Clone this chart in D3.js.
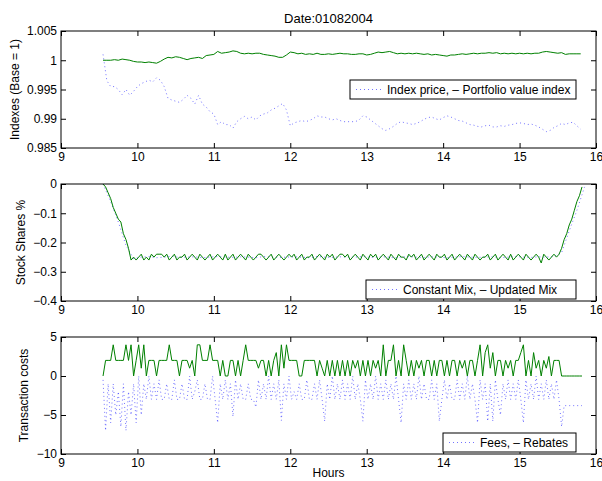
<!DOCTYPE html>
<html><head><meta charset="utf-8">
<script src="https://cdn.jsdelivr.net/npm/d3@7"></script>
<style>
body{margin:0;background:#fff}
svg{display:block}
text{font-family:"Liberation Sans",Arial,Helvetica,sans-serif;font-size:12px;fill:#000}
</style>
</head><body>
<svg id="c" width="602" height="481"></svg>
<script>
// ---------------- data ----------------
const chartTitle = "Date:01082004";
const xLabel = "Hours";
const xTicks = [9, 10, 11, 12, 13, 14, 15, 16];

// Panel 1: sampled every 0.05 h starting at 9.55 h
const p1Start = 9.55, p1Step = 0.05;
const portfolioValueIndex = [
 1.0000,1.0000,1.0000,1.0001,1.0000,1.0002,1.0001,1.0000,0.9998,0.9997,
 0.9997,0.9996,0.9997,0.9996,0.9995,0.9998,1.0002,1.0005,1.0004,1.0006,
 1.0005,1.0003,1.0001,1.0003,1.0004,1.0005,1.0003,1.0008,1.0009,1.0010,
 1.0015,1.0012,1.0013,1.0014,1.0016,1.0015,1.0012,1.0011,1.0012,1.0011,
 1.0012,1.0012,1.0010,1.0009,1.0008,1.0007,1.0005,1.0005,1.0009,1.0014,
 1.0013,1.0011,1.0012,1.0010,1.0011,1.0010,1.0012,1.0010,1.0010,1.0011,
 1.0010,1.0011,1.0012,1.0011,1.0011,1.0010,1.0010,1.0011,1.0011,1.0009,
 1.0010,1.0012,1.0014,1.0013,1.0014,1.0015,1.0013,1.0011,1.0012,1.0011,
 1.0012,1.0011,1.0012,1.0011,1.0010,1.0011,1.0009,1.0010,1.0009,1.0008,
 1.0007,1.0009,1.0009,1.0010,1.0011,1.0010,1.0011,1.0012,1.0011,1.0012,
 1.0012,1.0013,1.0012,1.0013,1.0011,1.0012,1.0011,1.0012,1.0011,1.0012,
 1.0011,1.0012,1.0011,1.0012,1.0012,1.0014,1.0015,1.0014,1.0013,1.0012,
 1.0013,1.0010,1.0011,1.0011,1.0011,1.0011
];
const indexPrice = [
 1.0010,0.9965,0.9955,0.9955,0.9950,0.9941,0.9950,0.9940,0.9947,0.9955,
 0.9960,0.9963,0.9966,0.9963,0.9970,0.9966,0.9955,0.9935,0.9932,0.9930,
 0.9928,0.9933,0.9940,0.9935,0.9925,0.9940,0.9925,0.9920,0.9912,0.9908,
 0.9890,0.9895,0.9890,0.9890,0.9884,0.9895,0.9900,0.9904,0.9900,0.9903,
 0.9898,0.9905,0.9908,0.9910,0.9915,0.9918,0.9922,0.9926,0.9915,0.9888,
 0.9893,0.9895,0.9897,0.9895,0.9897,0.9900,0.9905,0.9903,0.9903,0.9900,
 0.9898,0.9900,0.9897,0.9895,0.9895,0.9895,0.9895,0.9898,0.9905,0.9903,
 0.9898,0.9893,0.9888,0.9883,0.9880,0.9883,0.9887,0.9892,0.9895,0.9893,
 0.9892,0.9890,0.9892,0.9895,0.9899,0.9902,0.9903,0.9900,0.9898,0.9902,
 0.9905,0.9903,0.9900,0.9897,0.9896,0.9893,0.9890,0.9889,0.9887,0.9886,
 0.9888,0.9889,0.9886,0.9886,0.9888,0.9887,0.9889,0.9890,0.9892,0.9893,
 0.9892,0.9890,0.9891,0.9889,0.9886,0.9882,0.9878,0.9880,0.9885,0.9888,
 0.9892,0.9890,0.9893,0.9894,0.9888,0.9882
];

// Panel 2 & 3: sampled every 2 minutes starting at 9.55 h
const minStart = 9.55, minStep = 1 / 30;
const updatedMix = [
 0,-0.01,-0.03,-0.05,-0.08,-0.10,-0.12,-0.13,-0.17,-0.19,-0.22,-0.26,
 -0.25,-0.26,-0.25,-0.24,-0.26,-0.25,-0.26,-0.24,-0.25,-0.24,
 -0.24,-0.24,-0.25,-0.24,-0.26,-0.25,-0.24,-0.26,-0.25,-0.25,
 -0.24,-0.26,-0.25,-0.24,-0.25,-0.26,-0.24,-0.25,-0.26,-0.25,
 -0.24,-0.26,-0.25,-0.24,-0.25,-0.26,-0.24,-0.26,-0.25,-0.24,
 -0.26,-0.25,-0.24,-0.25,-0.26,-0.24,-0.25,-0.26,-0.25,-0.24,
 -0.24,-0.25,-0.26,-0.25,-0.24,-0.26,-0.25,-0.24,-0.25,-0.26,
 -0.25,-0.24,-0.25,-0.24,-0.26,-0.25,-0.24,-0.26,-0.25,-0.25,
 -0.24,-0.26,-0.25,-0.24,-0.25,-0.26,-0.24,-0.25,-0.24,-0.26,
 -0.25,-0.24,-0.24,-0.25,-0.24,-0.26,-0.25,-0.24,-0.25,-0.26,
 -0.24,-0.25,-0.26,-0.24,-0.25,-0.24,-0.26,-0.25,-0.24,-0.25,
 -0.26,-0.24,-0.25,-0.26,-0.24,-0.25,-0.25,-0.26,-0.24,-0.25,
 -0.24,-0.26,-0.25,-0.24,-0.26,-0.25,-0.24,-0.25,-0.26,-0.24,
 -0.25,-0.25,-0.24,-0.26,-0.25,-0.24,-0.26,-0.25,-0.24,-0.25,
 -0.26,-0.24,-0.25,-0.26,-0.24,-0.25,-0.26,-0.25,-0.25,-0.24,
 -0.26,-0.25,-0.24,-0.26,-0.25,-0.24,-0.25,-0.26,-0.24,-0.26,
 -0.25,-0.24,-0.25,-0.26,-0.24,-0.25,-0.26,-0.25,-0.24,-0.25,
 -0.27,-0.24,-0.25,-0.26,-0.25,-0.24,-0.25,
 -0.24,-0.22,-0.19,-0.17,-0.14,-0.12,-0.09,-0.06,-0.04,-0.01
];
// Constant mix: sampled every 0.1 h starting at 9.55 h
const cmStart = 9.55, cmStep = 0.1;
const constantMix = [
 0,-0.06,-0.13,-0.21,-0.255,
 -0.25,-0.248,-0.252,-0.25,-0.247,-0.251,-0.25,-0.249,-0.252,-0.25,
 -0.248,-0.25,-0.251,-0.249,-0.25,-0.252,-0.248,-0.25,-0.251,-0.25,
 -0.249,-0.25,-0.252,-0.248,-0.25,-0.251,-0.249,-0.25,-0.25,-0.248,
 -0.251,-0.25,-0.249,-0.252,-0.25,-0.248,-0.25,-0.251,-0.249,-0.25,
 -0.252,-0.25,-0.248,-0.25,-0.251,-0.25,-0.249,-0.252,-0.25,-0.248,
 -0.25,-0.251,-0.249,-0.25,-0.248,
 -0.235,-0.16,-0.09,-0.01
];
const rebates = [
 0,2,2,2,4,2,2,2,2,4,
 2,4,0,2,4,1,4,0,2,2,
 2,0,2,2,2,2,4,2,2,2,
 0,2,2,2,1,2,0,4,4,2,
 2,2,4,2,2,2,0,2,0,0,
 2,2,0,2,0,2,4,2,2,2,
 2,1,2,2,0,2,0,2,3,0,
 4,1,4,2,2,2,2,0,0,2,
 2,2,2,2,0,2,1,0,2,0,
 2,0,2,0,2,0,2,0,2,1,
 2,0,2,0,2,0,2,1,2,0,
 4,0,2,2,4,0,2,0,4,2,
 0,2,0,2,1,2,0,2,2,0,
 2,0,2,2,0,2,0,2,2,0,
 2,1,2,0,2,2,0,2,4,0,
 3,4,1,3,0,2,2,0,2,1,
 2,0,2,2,3,4,0,2,0,3,
 1,2,0,2,1,2.5,0,2,2,2,
 0,0,0,0,0,0,0,0,0
];
const fees = [
 -0.5,-7,-1,-6,-1,-5,-2,-6.5,-1,-7,
 -2,-5,-1,-6,0,-5,-1,-3,0,-3,
 -1,-3,-0.5,-3,-3,-1,-3,-3,-0.5,-3,
 -3,-1,-3,-3,0,-3,-2,-0.5,-3,-3,
 -1,-3,-3,0,-3,-6,-1,-3,-0.5,-3,
 -1,-5.2,-0.5,-3,-1,-3,-3,-1,-3,-3,
 -4,-0.5,-3,-1,-3,0,-3,-1,-3,-0.5,
 -5.7,-1,-3,0,-3,-2,-3,-1,-3,-3,
 -0.5,-3,-3,-1,-3,-0.5,-3,-5.8,-1,-3,
 0,-3,-1,-3,-0.5,-3,-1,-3,0,-3,
 -1,-3,-5.8,-0.5,-3,-1,-3,0,-3,-1,
 -3,-0.5,-3,-1,-3,0,-3,-6,-1,-3,
 -0.5,-3,-1,-3,0,-3,-1,-3,-3,-0.5,
 -3,-1,-5.8,-3,-0.5,-3,-1,-3,-3,-0.5,
 -3,-1,-3,0,-3,-1,-3,-6,-0.5,-3,
 -1,-5.8,-1,-5.8,-0.5,-3,-5,-1,-3,-0.5,
 -3,-1,-3,-0.5,-3,-6,-0.5,-3,-1,-3,
 0,-3,-1,-3,-0.5,-3,-1,-3,-0.5,-3,
 -6.5,-3.8,-3.8,-3.8,-3.8,-3.8,-3.8,-3.8,-3.8
];

const p1YTicks = [0.985, 0.99, 0.995, 1, 1.005];
const p2YTicks = [-0.4, -0.3, -0.2, -0.1, 0];
const p3YTicks = [-10, -5, 0, 5];
const yLabels = ["Indexes (Base = 1)", "Stock Shares %", "Transaction costs"];
const legendTexts = ["Index price, \u2013 Portfolio value index", "Constant Mix, \u2013 Updated Mix", "Fees, \u2013 Rebates"];

// ---------------- layout ----------------
const svg = d3.select("#c");
const L = 61, R = 596, PH = 117;
const tops = [31, 184, 337];
const x = d3.scaleLinear().domain([9, 16]).range([L, R]);
const GREEN = "#008000", BLUE = "#0000ff";
const fmtMinus = d => (d < 0 ? "\u2212" : "") + String(+Math.abs(d).toFixed(3));

const panels = [
  { ydom: [0.985, 1.005], yticks: p1YTicks, ylabX: 15,
    series: [
      { start: p1Start, step: p1Step, values: indexPrice, color: BLUE, dotted: true },
      { start: p1Start, step: p1Step, values: portfolioValueIndex, color: GREEN }
    ],
    legend: { x: 350, y: 80, w: 226 } },
  { ydom: [-0.4, 0], yticks: p2YTicks, ylabX: 21,
    series: [
      { start: cmStart, step: cmStep, values: constantMix, color: BLUE, dotted: true },
      { start: minStart, step: minStep, values: updatedMix, color: GREEN }
    ],
    legend: { x: 366, y: 280, w: 210 } },
  { ydom: [-10, 5], yticks: p3YTicks, ylabX: 24,
    series: [
      { start: minStart, step: minStep, values: fees, color: BLUE, dotted: true },
      { start: minStart, step: minStep, values: rebates, color: GREEN }
    ],
    legend: { x: 443, y: 433, w: 133 } }
];

panels.forEach((p, k) => {
  const top = tops[k], bottom = top + PH;
  const y = d3.scaleLinear().domain(p.ydom).range([bottom, top]);
  const g = svg.append("g");

  p.series.forEach(s => {
    const pts = s.values.map((v, i) => [s.start + i * s.step, v]);
    g.append("path").datum(pts)
      .attr("fill", "none")
      .attr("stroke", s.color)
      .attr("stroke-width", 1)
      .attr("stroke-opacity", s.dotted ? 0.55 : 1)
      .attr("stroke-dasharray", s.dotted ? "1,3" : null)
      .attr("d", d3.line().x(d => x(d[0])).y(d => y(d[1])));
  });

  const font = sel => sel.attr("font-family", null).attr("font-size", null);
  g.append("g").attr("transform", `translate(0,${bottom})`)
    .call(d3.axisBottom(x).tickValues(xTicks).tickSize(-5).tickSizeOuter(0).tickPadding(4).tickFormat(d3.format("d"))).call(font);
  g.append("g").attr("transform", `translate(0,${top})`)
    .call(d3.axisTop(x).tickValues(xTicks).tickSize(-5).tickSizeOuter(0).tickFormat("")).call(font);
  g.append("g").attr("transform", `translate(${L},0)`)
    .call(d3.axisLeft(y).tickValues(p.yticks).tickSize(-5).tickSizeOuter(0).tickPadding(4).tickFormat(fmtMinus)).call(font);
  g.append("g").attr("transform", `translate(${R},0)`)
    .call(d3.axisRight(y).tickValues(p.yticks).tickSize(-5).tickSizeOuter(0).tickFormat("")).call(font);
  g.selectAll(".domain").remove();
  g.selectAll(".tick line").attr("stroke", "#000");

  g.append("rect").attr("x", L).attr("y", top).attr("width", R - L).attr("height", PH)
    .attr("fill", "none").attr("stroke", "#000").attr("stroke-width", 1);

  g.append("text").attr("transform", `translate(${p.ylabX},${top + PH / 2}) rotate(-90)`)
    .attr("text-anchor", "middle").attr("dy", "0.35em").text(yLabels[k]);

  const lg = p.legend;
  g.append("rect").attr("x", lg.x).attr("y", lg.y).attr("width", lg.w).attr("height", 19)
    .attr("fill", "#fff").attr("stroke", "#000").attr("stroke-width", 1);
  g.append("line").attr("x1", lg.x + 6).attr("x2", lg.x + 31).attr("y1", lg.y + 9.5).attr("y2", lg.y + 9.5)
    .attr("stroke", BLUE).attr("stroke-opacity", 0.55).attr("stroke-dasharray", "1,3");
  g.append("text").attr("x", lg.x + 37).attr("y", lg.y + 14).text(legendTexts[k]);
});

svg.append("text").attr("x", (L + R) / 2).attr("y", 23).attr("text-anchor", "middle")
  .style("font-size", "13px").text(chartTitle);
svg.append("text").attr("x", (L + R) / 2).attr("y", 477).attr("text-anchor", "middle").text(xLabel);
</script>
</body></html>
